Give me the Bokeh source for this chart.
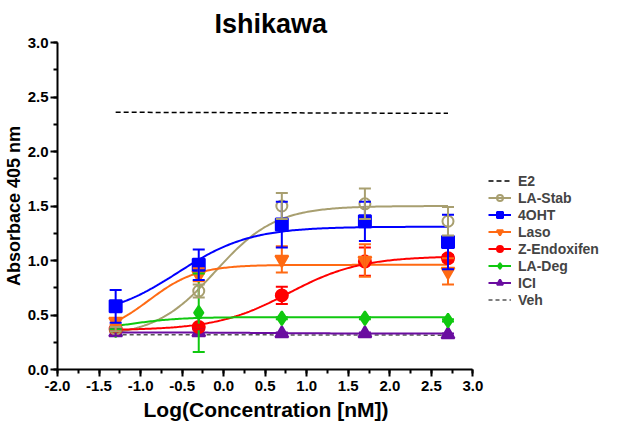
import numpy as np
from bokeh.plotting import figure
from bokeh.models import (ColumnDataSource, Whisker, TeeHead, Legend, LegendItem,
                          SingleIntervalTicker, PrintfTickFormatter, Title)
from bokeh.embed import file_html
from bokeh.resources import INLINE

# ---------------- data ----------------
log_conc = [-1.3, -0.3, 0.7, 1.7, 2.7]

la_stab = [0.37, 0.72, 1.50, 1.52, 1.36]
la_stab_err = [0.02, 0.06, 0.12, 0.14, 0.13]
ohT = [0.58, 0.96, 1.33, 1.36, 1.17]
ohT_err = [0.15, 0.14, 0.21, 0.18, 0.25]
laso = [0.44, 0.87, 1.01, 1.00, 0.90]
laso_err = [0.03, 0.06, 0.12, 0.15, 0.12]
z_endox = [0.37, 0.39, 0.68, 0.99, 1.02]
z_endox_err = [0.02, 0.02, 0.08, 0.13, 0.03]
la_deg = [0.36, 0.52, 0.47, 0.47, 0.45]
la_deg_err = [0.01, 0.36, 0.01, 0.01, 0.01]
ici = [0.34, 0.34, 0.33, 0.33, 0.32]
ici_err = [0.03, 0.03, 0.01, 0.01, 0.01]

# reference lines (E2, Veh) at first / last concentration
ref_x = [-1.3, 2.7]
e2_line = [2.36, 2.35]
veh_line = [0.32, 0.315]

# four-parameter logistic fit parameters
# (bottom, top, logEC50, hill)
fit_la_stab = (0.30, 1.50, -0.10, 1.2)
fit_4oht = (0.47, 1.31, -0.55, 1.0)
fit_laso = (0.31, 0.96, -0.90, 1.5)
fit_z_endox = (0.36, 1.04, 0.78, 1.0)
fit_la_deg = (0.36, 0.48, -1.10, 1.5)
fit_ici = (0.34, 0.33, 0.50, 1.0)

x_axis_range = (-2.0, 3.0)
y_axis_range = (0.0, 3.0)
tick_interval = 0.5
FONT = "Liberation Sans"

# ---------------- figure ----------------
W, H = 601, 422
LEFT, TOP, BOTTOM = 51, 42, 53
px_per_unit = 84.0
x_end = x_axis_range[0] + (W - LEFT) / px_per_unit   # room for the legend

p = figure(width=W, height=H, x_range=(x_axis_range[0], x_end), y_range=y_axis_range,
           output_backend="svg", toolbar_location=None,
           min_border_left=LEFT, min_border_right=0, min_border_top=TOP,
           min_border_bottom=BOTTOM)
p.title.text = "Ishikawa"
p.title.align = "left"
p.title.offset = 157
p.title.vertical_align = "top"
p.title.standoff = 4
p.title.text_font = FONT
p.title.text_font_size = "27px"
p.title.text_font_style = "bold"
p.title.text_color = "black"
p.outline_line_color = None
p.xgrid.visible = False
p.ygrid.visible = False

for ax in (p.xaxis[0], p.yaxis[0]):
    ax.ticker = SingleIntervalTicker(interval=tick_interval, num_minor_ticks=2)
    ax.formatter = PrintfTickFormatter(format="%.1f")
    ax.axis_line_width = 2
    ax.major_tick_line_width = 2
    ax.minor_tick_line_width = 2
    ax.major_tick_in = 0
    ax.major_tick_out = 7
    ax.minor_tick_in = 0
    ax.minor_tick_out = 4
    ax.major_label_text_font = FONT
    ax.major_label_text_font_style = "bold"
    ax.major_label_text_font_size = "15px"
    ax.axis_label_text_font = FONT
    ax.axis_label_text_font_style = "bold"
    ax.axis_label_text_font_size = "18px"
    ax.axis_label_text_color = "black"
    ax.axis_line_color = "black"
    ax.major_label_text_color = "black"

p.xaxis.bounds = x_axis_range
p.yaxis.axis_label = "Absorbace 405 nm"
p.yaxis.major_label_standoff = 2
p.yaxis.axis_label_standoff = 1
p.xaxis.major_label_standoff = 4

xlabel = Title(text="Log(Concentration [nM])", align="left", offset=86,
               text_font=FONT, text_font_size="21px", text_font_style="bold",
               text_color="black", standoff=4)
p.add_layout(xlabel, "below")

xs_fit = np.linspace(log_conc[0], log_conc[-1], 200)


def fourpl(params):
    b, t, ec, h = params
    return b + (t - b) / (1.0 + 10 ** ((ec - xs_fit) * h))


series = [
    ("LA-Stab", la_stab, la_stab_err, fit_la_stab, "#A89F70", "circle", False, 11),
    ("4OHT", ohT, ohT_err, fit_4oht, "#0000FF", "square", True, 12),
    ("Laso", laso, laso_err, fit_laso, "#FF6A13", "inverted_triangle", True, 13),
    ("Z-Endoxifen", z_endox, z_endox_err, fit_z_endox, "#FF0000", "circle", True, 12),
    ("LA-Deg", la_deg, la_deg_err, fit_la_deg, "#10C810", "diamond", True, 14),
    ("ICI", ici, ici_err, fit_ici, "#6A0DA0", "triangle", True, 13),
]

r_e2 = p.line(ref_x, e2_line, line_color="black", line_width=1.5, line_dash="5 3")
r_veh = p.line(ref_x, veh_line, line_color="#555555", line_width=1.5, line_dash="4 3")

fit_r = {}
for name, ys, errs, fit, color, marker, filled, size in series:
    fit_r[name] = p.line(xs_fit, fourpl(fit), line_color=color, line_width=2)

pts_r = {}
for name, ys, errs, fit, color, marker, filled, size in reversed(series):
    src = ColumnDataSource(dict(x=log_conc, y=ys,
                                lo=[a - e for a, e in zip(ys, errs)],
                                hi=[a + e for a, e in zip(ys, errs)]))
    w = Whisker(base="x", upper="hi", lower="lo", source=src, dimension="height",
                line_color=color, line_width=2, level="glyph",
                upper_head=TeeHead(size=12, line_color=color, line_width=2),
                lower_head=TeeHead(size=12, line_color=color, line_width=2))
    p.add_layout(w)
    pts_r[name] = p.scatter("x", "y", source=src, marker=marker, size=size,
                            line_color=color, line_width=2,
                            fill_color=color if filled else None)

items = [LegendItem(label="E2", renderers=[r_e2])]
for name, *_ in series:
    items.append(LegendItem(label=name, renderers=[fit_r[name], pts_r[name]]))
items.append(LegendItem(label="Veh", renderers=[r_veh]))

legend = Legend(items=items, location=(431, 61), padding=0, margin=0,
                spacing=0, glyph_width=23, glyph_height=15, label_height=17,
                label_standoff=7, label_text_font=FONT, label_text_font_style="bold",
                label_text_font_size="14px", border_line_color=None,
                background_fill_alpha=0)
p.add_layout(legend, "center")

open("out.html", "w").write(file_html(p, INLINE))
